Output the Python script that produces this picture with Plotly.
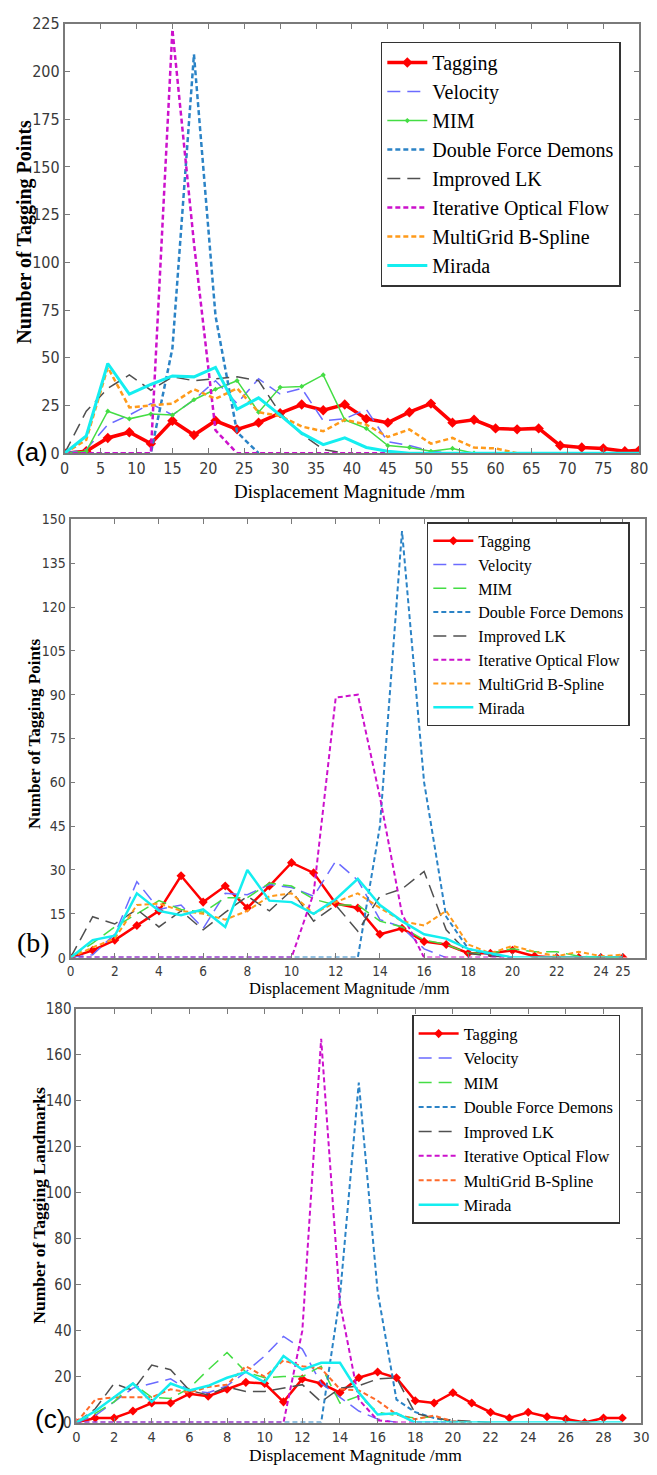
import plotly.graph_objects as go

W, H = 657, 1475
SERIES = ["Tagging", "Velocity", "MIM", "Double Force Demons", "Improved LK",
          "Iterative Optical Flow", "MultiGrid B-Spline", "Mirada"]

# ---------------- panel (a) data ----------------
A_X = [0, 3, 6, 9, 12, 15, 18, 21, 24, 27, 30, 33, 36, 39, 42, 45, 48, 51, 54, 57,
       60, 63, 66, 69, 72, 75, 78, 80]
A_TAGGING = [0, 1, 8, 11, 5, 17, 9.5, 17, 12.5, 16, 21, 25.5, 22.5, 25.5, 18, 16, 21.5, 26,
             16, 17.5, 13, 12.5, 13, 4, 3, 2.5, 1, 1.5]
A_VELOCITY = [0, 2, 15, 20, 26, 20, 28, 38, 26, 39, 31, 34, 17, 18, 23, 6, 4, 1, 0]
A_MIM = [0, 1, 22, 18, 20.5, 20, 28, 33.5, 38, 21.5, 34.5, 35, 41, 17.5, 13, 4, 3, 1, 2.5, 0]
A_DFD = [0, 0, 0, 0, 0, 55, 209, 72, 11, 0]
A_LK = [0, 22, 34, 41, 33, 40, 38, 39, 40, 38, 21, 10, 2, 0]
A_IOF = [0, 0, 0, 0, 0, 222, 110, 12, 0, 0, 0, 0, 0, 0, 0, 0]
A_MG = [0, 7, 45, 24, 25, 26, 33.5, 28.5, 34, 21.5, 19.5, 14, 11.5, 17.5, 15, 8.5, 12.5,
        5, 8, 3, 2.5, 0]
A_MIRADA = [0, 9, 47, 31, 36, 40.5, 40, 45, 23, 29, 20, 10.5, 4.5, 8, 3, 1, 0, 0, 0, 0,
            0, 0, 0, 0, 0, 0, 0, 0]

# ---------------- panel (b) data ----------------
B_X = [0, 1, 2, 3, 4, 5, 6, 7, 8, 9, 10, 11, 12, 13, 14, 15, 16, 17, 18, 19, 20, 21,
       22, 23, 24, 25]
B_TAGGING = [0, 2.5, 6, 11, 16, 28, 19, 24.5, 17, 24.5, 32.5, 29, 18.5, 17, 8, 10, 5.5,
             4.5, 1.5, 1.5, 2.5, 0.5, 0, 0, 0, 0]
B_VELOCITY = [0, 1, 8, 26, 16.5, 18, 10, 22, 21.5, 25, 24, 21, 33, 26.5, 13, 10.5, 3, 0]
B_MIM = [0, 5, 10.5, 15, 19.5, 16.5, 15.5, 20.5, 20.5, 25.5, 24.5, 20, 18, 18, 12.5,
         10.5, 6, 4.5, 1.5, 1.5, 3, 2, 2, 0.5, 0, 0]
B_DFD = [0, 0, 0, 0, 0, 0, 0, 0, 0, 0, 0, 0, 0, 0, 45, 146, 60, 14, 3, 1, 0]
B_LK = [0, 14, 11.5, 16.5, 10.5, 16, 9.5, 15.5, 21, 16, 23, 12.5, 18, 9, 21, 23.5, 29.5,
        9.5, 1.5, 0.5, 0]
B_IOF = [0, 0, 0, 0, 0, 0, 0, 0, 0, 0, 0, 22, 89, 90, 55, 15, 0, 0, 0, 0, 0]
B_MG = [0, 3.5, 6.5, 18, 18.5, 16, 15, 13, 16, 21, 22, 15, 19, 22, 17, 12.5, 11, 16, 4.5,
        1.5, 4, 2, 0.5, 2, 0.5, 1]
B_MIRADA = [0, 6, 7.5, 22, 16, 14.5, 16.5, 10.5, 30, 19.5, 19, 15, 20, 27, 18, 12.5, 8,
            6.5, 3, 1.5, 0, 0, 0, 0, 0, 0]
B_TICKS = [0, 2, 4, 6, 8, 10, 12, 14, 16, 18, 20, 22, 24, 25]

# ---------------- panel (c) data ----------------
C_X = [0, 1, 2, 3, 4, 5, 6, 7, 8, 9, 10, 11, 12, 13, 14, 15, 16, 17, 18, 19, 20, 21,
       22, 23, 24, 25, 26, 27, 28, 29]
C_TAGGING = [0, 2, 2, 5, 8.5, 8.5, 12.5, 11.5, 14.5, 17.5, 17, 9, 19, 17, 13, 19.5, 22,
             19.5, 9.5, 8.5, 13, 8.5, 4.5, 2, 4.5, 2.5, 1.5, 0, 2, 2]
C_VELOCITY = [0, 3, 9, 15, 17, 19, 14, 13, 16, 22, 29, 37.5, 32, 17, 11, 5, 1.5, 0]
C_MIM = [0, 4, 9, 17, 11, 10.5, 15, 23, 30.5, 22, 19.5, 20, 20, 24.5, 8.5, 11.5, 4.5, 3,
         2, 2.5, 0]
C_DFD = [0, 0, 0, 0, 0, 0, 0, 0, 0, 0, 0, 0, 0, 0, 55, 148, 57, 10, 4.5, 2, 0.5, 0]
C_LK = [0, 6, 17, 14, 25, 23, 14, 12, 15.5, 13.5, 13.5, 15, 16.5, 9, 15, 16, 19, 19.5, 4,
        2, 1, 0.5, 0]
C_IOF = [0, 0, 0, 0, 0, 0, 0, 0, 0, 0, 0, 0, 40, 167, 52, 10, 1, 0, 0, 0, 0]
C_MG = [0, 10, 11, 11, 11, 14.5, 13, 15.5, 16.5, 24.5, 20, 27, 24.5, 23.5, 14.5, 14, 9.5,
        3.5, 1.5, 3, 0.5, 0]
C_MIRADA = [0, 5, 11, 17, 9, 17, 14, 16, 19.5, 22, 17.5, 29, 23, 26, 26, 13, 3.5, 4, 0, 0,
            0, 0, 0, 0, 0, 0, 0, 0, 0, 0]

# ---------------- styles ----------------
LONG = "13px,7px"
SHORT = "5px,3px"
STYLE_A = {
    "Tagging": dict(color="#ff0000", width=3.5, dash="solid", marker=8),
    "Velocity": dict(color="#6b6bff", width=1.5, dash=LONG, marker=0),
    "MIM": dict(color="#44dd44", width=1.5, dash="solid", marker=4),
    "Double Force Demons": dict(color="#2b83c6", width=2.5, dash=SHORT, marker=0),
    "Improved LK": dict(color="#505050", width=1.5, dash=LONG, marker=0),
    "Iterative Optical Flow": dict(color="#cc11cc", width=2.5, dash=SHORT, marker=0),
    "MultiGrid B-Spline": dict(color="#ff9a1a", width=2.5, dash=SHORT, marker=0),
    "Mirada": dict(color="#14eef0", width=3, dash="solid", marker=0),
}
STYLE_B = {
    "Tagging": dict(color="#ff0000", width=2.5, dash="solid", marker=7),
    "Velocity": dict(color="#6b6bff", width=1.5, dash=LONG, marker=0),
    "MIM": dict(color="#44dd44", width=1.5, dash=LONG, marker=0),
    "Double Force Demons": dict(color="#2b83c6", width=2, dash=SHORT, marker=0),
    "Improved LK": dict(color="#505050", width=1.5, dash=LONG, marker=0),
    "Iterative Optical Flow": dict(color="#cc11cc", width=2, dash=SHORT, marker=0),
    "MultiGrid B-Spline": dict(color="#ff9a1a", width=2, dash=SHORT, marker=0),
    "Mirada": dict(color="#14eef0", width=2.5, dash="solid", marker=0),
}
STYLE_C = dict(STYLE_B)
STYLE_C["MultiGrid B-Spline"] = dict(color="#ff6a2a", width=2, dash=SHORT, marker=0)

PANELS = [
    dict(xs=A_X, data=[A_TAGGING, A_VELOCITY, A_MIM, A_DFD, A_LK, A_IOF, A_MG, A_MIRADA],
         style=STYLE_A, xa="x", ya="y", legend="legend"),
    dict(xs=B_X, data=[B_TAGGING, B_VELOCITY, B_MIM, B_DFD, B_LK, B_IOF, B_MG, B_MIRADA],
         style=STYLE_B, xa="x2", ya="y2", legend="legend2"),
    dict(xs=C_X, data=[C_TAGGING, C_VELOCITY, C_MIM, C_DFD, C_LK, C_IOF, C_MG, C_MIRADA],
         style=STYLE_C, xa="x3", ya="y3", legend="legend3"),
]

fig = go.Figure()
for p in PANELS:
    for name, vals in zip(SERIES, p["data"]):
        st = p["style"][name]
        mode = "lines+markers" if st["marker"] else "lines"
        fig.add_trace(go.Scatter(
            x=p["xs"][:len(vals)], y=vals, name=name, mode=mode,
            xaxis=p["xa"], yaxis=p["ya"], legend=p["legend"],
            line=dict(color=st["color"], width=st["width"], dash=st["dash"]),
            marker=dict(symbol="diamond", size=st["marker"] or 1, color=st["color"]),
            hoverinfo="skip"))

def px_x(v):
    return v / W

def px_y(v):
    return 1 - v / H

TICKFONT = "Liberation Sans Narrow, Arial Narrow, DejaVu Sans Condensed, sans-serif"
SERIF = "Liberation Serif, Times New Roman, serif"
AX = dict(showline=True, mirror="ticks", linecolor="#7a7a7a", linewidth=1.8,
          ticks="inside", ticklen=5, tickcolor="#7a7a7a", tickwidth=1.2,
          showgrid=False, zeroline=False)
XAX = dict(AX, ticklabeloverflow="allow")

fig.update_layout(
    width=W, height=H, margin=dict(l=0, r=0, t=0, b=0),
    plot_bgcolor="white", paper_bgcolor="white", showlegend=True,
    xaxis=dict(domain=[px_x(61), px_x(648)], anchor="y", range=[0, 80], dtick=5,
               tickfont=dict(family=TICKFONT, size=16, color="#3a3a3a"), **XAX),
    yaxis=dict(domain=[px_y(450), px_y(15)], anchor="x", range=[0, 225], dtick=25,
               tickfont=dict(family=TICKFONT, size=16, color="#3a3a3a"), **AX),
    xaxis2=dict(domain=[px_x(67), px_x(654)], anchor="y2", range=[0, 26],
                tickvals=B_TICKS,
                tickfont=dict(family=TICKFONT, size=13.5, color="#3a3a3a"), **XAX),
    yaxis2=dict(domain=[px_y(961), px_y(517)], anchor="x2", range=[0, 150], dtick=15,
                tickfont=dict(family=TICKFONT, size=14, color="#3a3a3a"), **AX),
    xaxis3=dict(domain=[px_x(73), px_x(650)], anchor="y3", range=[0, 30], dtick=2,
                tickfont=dict(family=TICKFONT, size=14.5, color="#3a3a3a"), **XAX),
    yaxis3=dict(domain=[px_y(1432), px_y(1013)], anchor="x3", range=[0, 180], dtick=20,
                tickfont=dict(family=TICKFONT, size=15, color="#3a3a3a"), **AX),
    legend=dict(x=px_x(384), y=px_y(33), xanchor="left", yanchor="top",
                bordercolor="#333333", borderwidth=1.5, bgcolor="white",
                font=dict(family=SERIF, size=20, color="black"), itemwidth=40,
                traceorder="normal"),
    legend2=dict(x=px_x(431), y=px_y(520), xanchor="left", yanchor="top",
                 bordercolor="#333333", borderwidth=1.5, bgcolor="white",
                 font=dict(family=SERIF, size=16, color="black"), itemwidth=40,
                 traceorder="normal"),
    legend3=dict(x=px_x(416), y=px_y(1019), xanchor="left", yanchor="top",
                 bordercolor="#333333", borderwidth=1.5, bgcolor="white",
                 font=dict(family=SERIF, size=16.5, color="black"), itemwidth=40,
                 traceorder="normal"),
)

ANN = [
    # x titles
    dict(text="Displacement Magnitude /mm", x=352, y=489, size=19, bold=False, rot=0, fam=SERIF),
    dict(text="Displacement Magnitude /mm", x=352, y=992, size=16.5, bold=False, rot=0, fam=SERIF),
    dict(text="Displacement Magnitude /mm", x=358, y=1465, size=17.5, bold=False, rot=0, fam=SERIF),
    # y titles
    dict(text="Number of Tagging Points", x=20, y=226, size=20, bold=True, rot=-90, fam=SERIF),
    dict(text="Number of Tagging Points", x=30, y=734, size=17, bold=True, rot=-90, fam=SERIF),
    dict(text="Number of Tagging Landmarks", x=35, y=1212, size=17.5, bold=True, rot=-90, fam=SERIF),
    # panel labels
    dict(text="(a)", x=28, y=449, size=26, bold=False, rot=0, fam="Liberation Sans, Arial, sans-serif"),
    dict(text="(b)", x=29, y=946, size=28, bold=False, rot=0, fam=SERIF),
    dict(text="(c)", x=46, y=1428, size=26, bold=False, rot=0, fam="Liberation Sans, Arial, sans-serif"),
]
for a in ANN:
    t = "<b>%s</b>" % a["text"] if a["bold"] else a["text"]
    fig.add_annotation(text=t, x=px_x(a["x"]), y=px_y(a["y"]), xref="paper", yref="paper",
                       xanchor="center", yanchor="middle", showarrow=False,
                       textangle=a["rot"],
                       font=dict(family=a["fam"], size=a["size"], color="black"))

fig.write_html("out.html")
